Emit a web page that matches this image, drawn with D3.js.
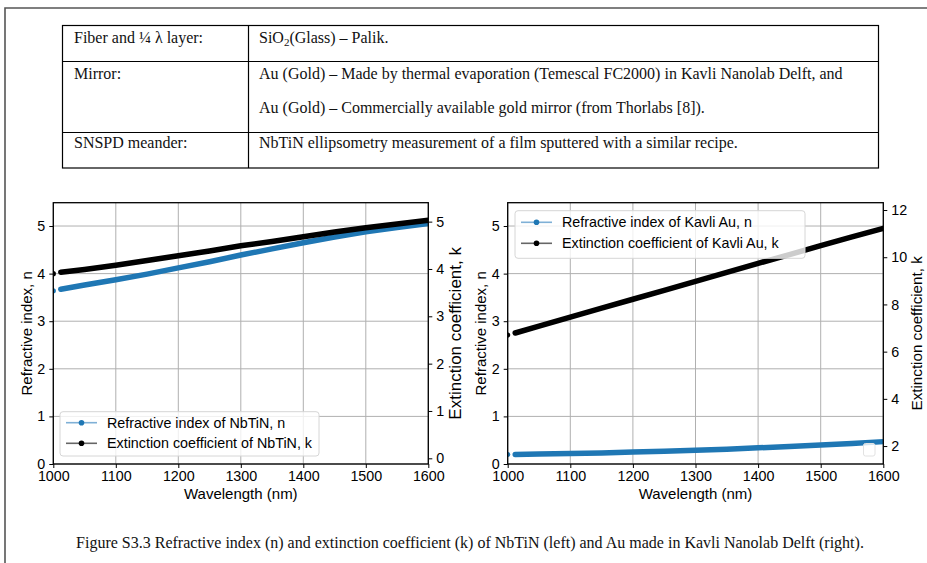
<!DOCTYPE html>
<html>
<head>
<meta charset="utf-8">
<script src="https://cdn.jsdelivr.net/npm/d3@7"></script>
<style>
  body { margin: 0; background: #fff; }
  svg { display: block; }
</style>
</head>
<body>
<div id="figure"></div>
<script>
// wavelength samples (nm) and values
const wavelengths = [1000, 1012, 1050, 1100, 1150, 1200, 1250, 1300, 1350, 1400, 1450, 1500, 1550, 1600];
const nbtinN = [3.64, 3.67, 3.76, 3.87, 3.99, 4.12, 4.25, 4.39, 4.52, 4.65, 4.77, 4.88, 4.97, 5.05];
const nbtinK = [3.90, 3.93, 3.99, 4.08, 4.18, 4.28, 4.38, 4.49, 4.58, 4.68, 4.78, 4.87, 4.95, 5.03];
const auN = [0.20, 0.20, 0.21, 0.22, 0.23, 0.25, 0.27, 0.29, 0.31, 0.34, 0.37, 0.40, 0.43, 0.47];
const auK = [6.70, 6.79, 7.08, 7.46, 7.84, 8.22, 8.60, 8.98, 9.36, 9.74, 10.11, 10.49, 10.86, 11.22];

const xTicks = [1000, 1100, 1200, 1300, 1400, 1500, 1600];
const nTicks = [0, 1, 2, 3, 4, 5];
const nbtinKTicks = [0, 1, 2, 3, 4, 5];
const auKTicks = [2, 4, 6, 8, 10, 12];

const tableRows = [
  ['Fiber and ¼ λ layer:', [['SiO', '2', '(Glass) – Palik.']]],
  ['Mirror:', [['Au (Gold) – Made by thermal evaporation (Temescal FC2000) in Kavli Nanolab Delft, and'],
               ['Au (Gold) – Commercially available gold mirror (from Thorlabs [8]).']]],
  ['SNSPD meander:', [['NbTiN ellipsometry measurement of a film sputtered with a similar recipe.']]]
];
const caption = 'Figure S3.3 Refractive index (n) and extinction coefficient (k) of NbTiN (left) and Au made in Kavli Nanolab Delft (right).';

const W = 927, H = 563;
const blue = '#1f77b4';
const sans = '"Liberation Sans", Arial, sans-serif';
const serif = '"Liberation Serif", "Times New Roman", serif';

const svg = d3.select('#figure').append('svg').attr('width', W).attr('height', H);

// page frame
svg.append('path').attr('d', 'M5,563 V8 H927').attr('fill', 'none')
  .attr('stroke', '#555').attr('stroke-width', 1.6);

// ---- table ----
const tX0 = 62.5, tX1 = 878.5, tXc = 248.5;
const rowLines = [25.5, 61.5, 132.5, 168];
const rowBase = [[42.5], [79, 113], [147.5]];
const tg = svg.append('g').attr('font-family', serif).attr('font-size', 16).attr('fill', '#111');
tg.append('rect').attr('x', tX0).attr('y', rowLines[0]).attr('width', tX1 - tX0).attr('height', rowLines[3] - rowLines[0])
  .attr('fill', 'none').attr('stroke', '#000').attr('stroke-width', 1.2);
tg.append('line').attr('x1', tXc).attr('x2', tXc).attr('y1', rowLines[0]).attr('y2', rowLines[3]).attr('stroke', '#000').attr('stroke-width', 1.2);
[rowLines[1], rowLines[2]].forEach(y => {
  tg.append('line').attr('x1', tX0).attr('x2', tX1).attr('y1', y).attr('y2', y).attr('stroke', '#000').attr('stroke-width', 1.2);
});
tableRows.forEach((r, i) => {
  tg.append('text').attr('x', 74).attr('y', rowBase[i][0]).text(r[0]);
  r[1].forEach((parts, j) => {
    const t = tg.append('text').attr('x', 259).attr('y', rowBase[i][j]);
    if (parts.length === 3) {
      t.append('tspan').text(parts[0]);
      t.append('tspan').attr('font-size', 11).attr('dy', 3).text(parts[1]);
      t.append('tspan').attr('dy', -3).text(parts[2]);
    } else {
      t.text(parts[0]);
    }
  });
});

// ---- caption ----
svg.append('text').attr('x', 470).attr('y', 547.5).attr('text-anchor', 'middle')
  .attr('font-family', serif).attr('font-size', 16).attr('fill', '#111').text(caption);

// ---- panels ----
function drawPanel(cfg) {
  const g = svg.append('g').attr('font-family', sans).attr('fill', '#000');
  const x = d3.scaleLinear().domain([1000, 1600]).range([cfg.x0, cfg.x1]);
  const yN = d3.scaleLinear().domain([0, 5.49]).range([cfg.y1, cfg.y0]);
  const yK = d3.scaleLinear().domain(cfg.kDomain).range([cfg.y1, cfg.y0]);

  const clipId = 'clip' + cfg.id;
  svg.append('clipPath').attr('id', clipId).append('rect')
    .attr('x', cfg.x0).attr('y', cfg.y0).attr('width', cfg.x1 - cfg.x0).attr('height', cfg.y1 - cfg.y0);

  // grid
  g.append('g').selectAll('line').data(xTicks).join('line')
    .attr('x1', d => x(d)).attr('x2', d => x(d)).attr('y1', cfg.y0).attr('y2', cfg.y1)
    .attr('stroke', '#b0b0b0').attr('stroke-width', 1);
  g.append('g').selectAll('line').data(nTicks).join('line')
    .attr('x1', cfg.x0).attr('x2', cfg.x1).attr('y1', d => yN(d)).attr('y2', d => yN(d))
    .attr('stroke', '#b0b0b0').attr('stroke-width', 1);

  // series
  const plot = g.append('g').attr('clip-path', `url(#${clipId})`);
  const series = [
    { vals: cfg.n, y: yN, color: blue },
    { vals: cfg.k, y: yK, color: '#000' }
  ];
  series.forEach(s => {
    const pts = wavelengths.map((w, i) => [x(w), s.y(s.vals[i])]);
    plot.append('path').attr('d', d3.line()(pts.slice(1)))
      .attr('fill', 'none').attr('stroke', s.color).attr('stroke-width', 5.5).attr('stroke-linecap', 'round');
    plot.append('circle').attr('cx', pts[0][0]).attr('cy', pts[0][1]).attr('r', 2.6).attr('fill', s.color);
  });

  // axes
  const fmt = d3.format('d');
  const ax = d3.axisBottom(x).tickValues(xTicks).tickSize(4).tickPadding(3).tickFormat(fmt);
  const axL = d3.axisLeft(yN).tickValues(nTicks).tickSize(4).tickPadding(4).tickFormat(fmt);
  const axR = d3.axisRight(yK).tickValues(cfg.kTicks).tickSize(4).tickPadding(4).tickFormat(fmt);
  const styleAxis = sel => {
    sel.selectAll('.domain').remove();
    sel.selectAll('line').attr('stroke', '#000').attr('stroke-width', 1);
    sel.selectAll('text').attr('font-family', sans).attr('font-size', 14.3).attr('fill', '#000');
  };
  g.append('g').attr('transform', `translate(0,${cfg.y1})`).call(ax).call(styleAxis);
  g.append('g').attr('transform', `translate(${cfg.x0},0)`).call(axL).call(styleAxis);
  g.append('g').attr('transform', `translate(${cfg.x1},0)`).call(axR).call(styleAxis);
  g.append('rect').attr('x', cfg.x0).attr('y', cfg.y0).attr('width', cfg.x1 - cfg.x0).attr('height', cfg.y1 - cfg.y0)
    .attr('fill', 'none').attr('stroke', '#000').attr('stroke-width', 1.3);

  // labels
  const midY = (cfg.y0 + cfg.y1) / 2;
  g.append('text').attr('x', (cfg.x0 + cfg.x1) / 2).attr('y', 499).attr('text-anchor', 'middle')
    .attr('font-size', 15).text('Wavelength (nm)');
  g.append('text').attr('transform', `translate(${cfg.nLabelX},${midY}) rotate(-90)`)
    .attr('text-anchor', 'middle').attr('dominant-baseline', 'central').attr('font-size', 15)
    .text('Refractive index, n');
  g.append('text').attr('transform', `translate(${cfg.kLabelX},${midY}) rotate(-90)`)
    .attr('text-anchor', 'middle').attr('dominant-baseline', 'central').attr('font-size', cfg.kLabelSize)
    .text('Extinction coefficient, k');

  // legend
  const lg = g.append('g');
  lg.append('rect').attr('x', cfg.leg.x0).attr('y', cfg.leg.y0).attr('width', cfg.leg.x1 - cfg.leg.x0)
    .attr('height', cfg.leg.y1 - cfg.leg.y0).attr('rx', 3)
    .attr('fill', '#fff').attr('fill-opacity', 0.8).attr('stroke', '#d6d6d6').attr('stroke-width', 1);
  const items = [
    { label: cfg.labels[0], line: '#7fb0d6', dot: blue },
    { label: cfg.labels[1], line: '#666', dot: '#000' }
  ];
  items.forEach((it, i) => {
    const yy = cfg.leg.rows[i];
    const hx = cfg.leg.x0 + 6;
    lg.append('line').attr('x1', hx).attr('x2', hx + 31).attr('y1', yy).attr('y2', yy)
      .attr('stroke', it.line).attr('stroke-width', 1.6);
    lg.append('circle').attr('cx', hx + 15.5).attr('cy', yy).attr('r', 2.8).attr('fill', it.dot);
    lg.append('text').attr('x', cfg.leg.x0 + 47).attr('y', yy).attr('dominant-baseline', 'central')
      .attr('font-size', 14.3).text(it.label);
  });
  return g;
}

drawPanel({
  id: 'L', x0: 53.3, x1: 428.3, y0: 202.7, y1: 464,
  n: nbtinN, k: nbtinK, kDomain: [-0.12, 5.40], kTicks: nbtinKTicks,
  nLabelX: 26, kLabelX: 455, kLabelSize: 17,
  labels: ['Refractive index of NbTiN, n', 'Extinction coefficient of NbTiN, k'],
  leg: { x0: 60, x1: 319, y0: 411.7, y1: 456, rows: [422.7, 443.3] }
});

const right = drawPanel({
  id: 'R', x0: 507.7, x1: 883.3, y0: 202.7, y1: 464,
  n: auN, k: auK, kDomain: [1.24, 12.31], kTicks: auKTicks,
  nLabelX: 480.7, kLabelX: 916.7, kLabelSize: 15.2,
  labels: ['Refractive index of Kavli Au, n', 'Extinction coefficient of Kavli Au, k'],
  leg: { x0: 515, x1: 805, y0: 210.7, y1: 258.3, rows: [222.3, 243.3] }
});
// empty second legend frame in the lower right corner
right.append('rect').attr('x', 863.5).attr('y', 443.5).attr('width', 11.5).attr('height', 12.5).attr('rx', 2)
  .attr('fill', '#fff').attr('fill-opacity', 0.8).attr('stroke', '#e2e2e2');
</script>
</body>
</html>
